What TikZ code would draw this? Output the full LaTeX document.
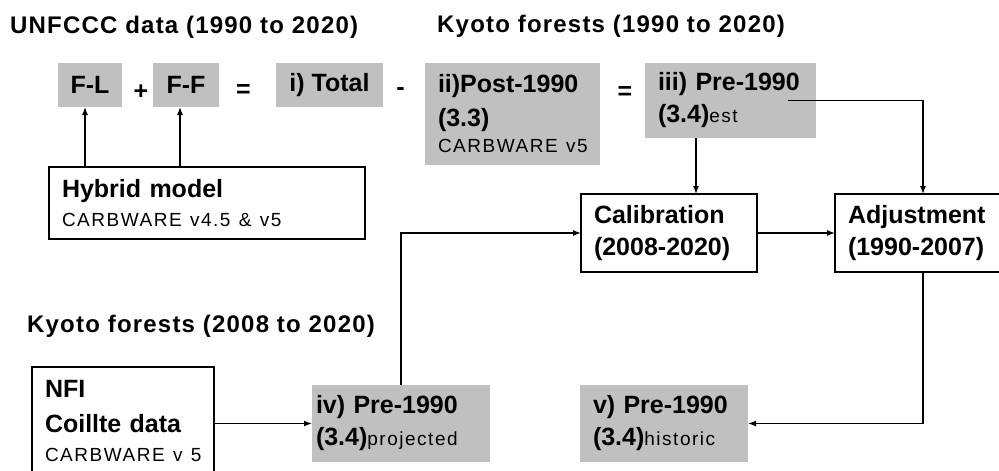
\documentclass[tikz,border=0pt]{standalone}
\usepackage{fontspec}
\setmainfont{Liberation Sans}
\newfontfamily\titlefont{Liberation Sans}[LetterSpace=5]
\newfontfamily\notefont{Liberation Sans}[LetterSpace=8]
\usetikzlibrary{arrows.meta}
\definecolor{boxgrey}{RGB}{192,192,192}
\newcommand{\lighttext}[1]{{\notefont\mdseries\fontsize{19}{23}\selectfont #1}}

\begin{document}
\begin{tikzpicture}[x=1pt, y=-1pt,
    heading/.style ={anchor=base west, inner sep=0pt, font=\titlefont\bfseries\fontsize{24}{28}\selectfont},
    greybox/.style ={fill=boxgrey, inner xsep=13pt, inner ysep=0pt, outer sep=0pt, align=left, font=\bfseries\fontsize{25}{32}\selectfont},
    whitebox/.style ={draw, line width=1.3pt, fill=white, inner xsep=13pt, inner ysep=0pt, outer sep=0pt, align=left, font=\bfseries\fontsize{25}{32}\selectfont},
    sign/.style ={inner sep=0pt, font=\bfseries\fontsize{25}{30}\selectfont},
    link/.style ={->, >={Latex[length=8pt,width=6pt]}, line width=1.3pt}]
   \fill[white] (0,0) rectangle (999,471);
   \useasboundingbox (0,0) rectangle (999,471);
   \clip (0,0) rectangle (999,471);

   % headings
   \node[heading] (unfccc) at (10,33)  {UNFCCC data (1990 to 2020)};
   \node[heading] (kyotoA) at (437,32) {Kyoto forests (1990 to 2020)};
   \node[heading] (kyotoB) at (27,332) {Kyoto forests (2008 to 2020)};

   % top row
   \node[greybox, inner xsep=0pt, align=center, minimum width=64pt, minimum height=44pt] (FL) at (90,85) {F-L};
   \node[sign] (plus) at (141,92) {+};
   \node[greybox, inner xsep=0pt, align=center, minimum width=66pt, minimum height=44pt] (FF) at (186,85) {F-F};
   \node[sign] (eqA) at (243.5,90.5) {=};
   \node[greybox, inner xsep=0pt, align=center, minimum width=107pt, minimum height=44pt] (total) at (329.5,85) {i) Total};
   \node[sign] (minus) at (400.5,91.5) {-};
   \node[greybox, text width=149pt, minimum height=102pt] (post) at (512.5,114) {ii)Post-1990\\[2pt](3.3)\\[-6pt]\lighttext{CARBWARE~v5}};
   \node[sign] (eqB) at (625,92.5) {=};
   \node[greybox, text width=145pt, minimum height=75pt] (pre) at (730.5,100.5) {iii) Pre-1990\\(3.4)\lighttext{est}};

   % models
   \node[whitebox, text width=290pt, minimum height=72pt] (hybrid) at (207,203) {Hybrid model\\[-3pt]\lighttext{CARBWARE~v4.5~\&~v5}};
   \node[whitebox, text width=150pt, minimum height=78pt] (calib) at (669,233) {Calibration\\(2008-2020)};
   \node[whitebox, text width=150pt, minimum height=78pt] (adjust) at (923,233) {Adjustment\\(1990-2007)};

   % bottom row
   \node[whitebox, text width=156pt, minimum height=108pt] (nfi) at (123,421) {NFI\\[3pt]Coillte data\\[-3pt]\lighttext{CARBWARE~v~5}};
   \node[greybox, inner xsep=4pt, text width=170pt, minimum height=77pt] (iv) at (401,423.5) {iv) Pre-1990\\(3.4)\lighttext{projected}};
   \node[greybox, text width=142pt, minimum height=77pt] (v) at (664,423.5) {v) Pre-1990\\(3.4)\lighttext{historic}};

   \draw[link] ([xshift=-5pt]FL.south |- hybrid.north) -- ([xshift=-5pt]FL.south);
   \draw[link] ([xshift=-6pt]FF.south |- hybrid.north) -- ([xshift=-6pt]FF.south);
   \draw[link] ([xshift=-34.5pt]pre.south) -- ([xshift=-34.5pt]pre.south |- calib.north);
   \draw[link] ([xshift=-28pt]pre.east) -| (adjust.north);
   \draw[link] (calib.east) -- (adjust.west);
   \draw[link] (iv.north) |- (calib.west);
   \draw[link] (nfi.east |- iv.west) -- (iv.west);
   \draw[link] (adjust.south) |- (v.east);
\end{tikzpicture}
\end{document}
